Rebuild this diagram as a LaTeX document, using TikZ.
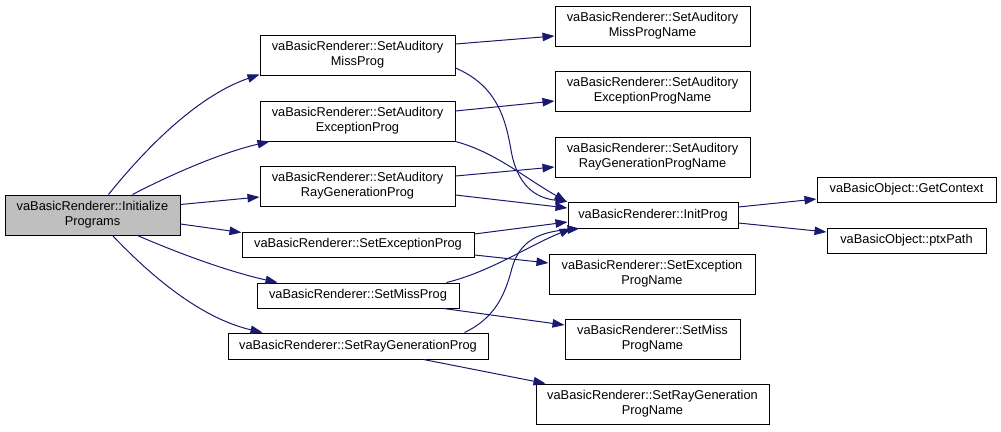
\documentclass[tikz,border=0pt]{standalone}
\usepackage{fontspec}
\setmainfont{Liberation Sans}
\usetikzlibrary{arrows.meta}
\definecolor{edgeblue}{HTML}{191970}
\definecolor{rootfill}{HTML}{BFBFBF}
\begin{document}
\begin{tikzpicture}[x=1pt,y=-1pt,
  box/.style={draw=black,line width=1pt,fill=white,inner sep=0pt,align=center,
    font=\fontsize{12.8pt}{15pt}\selectfont},
  call/.style={draw=edgeblue,line width=1pt,-{Triangle[length=12pt,width=8.5pt]}}]
\useasboundingbox (0,0) rectangle (1001,431);
% left column
\node[box,fill=rootfill,minimum width=175pt,minimum height=40pt] (main) at (92.5,215) {vaBasicRenderer::Initialize\\Programs};
\node[box,minimum width=195pt,minimum height=40pt] (samiss) at (357.5,55) {vaBasicRenderer::SetAuditory\\MissProg};
\node[box,minimum width=195pt,minimum height=40pt] (saexc) at (357.5,121) {vaBasicRenderer::SetAuditory\\ExceptionProg};
\node[box,minimum width=195pt,minimum height=40pt] (saray) at (357.5,186) {vaBasicRenderer::SetAuditory\\RayGenerationProg};
\node[box,minimum width=232pt,minimum height=25pt] (setexc) at (358,244.5) {vaBasicRenderer::SetExceptionProg};
\node[box,minimum width=202pt,minimum height=25pt] (setmiss) at (358,295.5) {vaBasicRenderer::SetMissProg};
\node[box,minimum width=260pt,minimum height=26pt] (setray) at (358,346) {vaBasicRenderer::SetRayGenerationProg};
% right column
\node[box,minimum width=195pt,minimum height=40pt] (samissn) at (652.5,26) {vaBasicRenderer::SetAuditory\\MissProgName};
\node[box,minimum width=195pt,minimum height=40pt] (saexcn) at (652.5,91) {vaBasicRenderer::SetAuditory\\ExceptionProgName};
\node[box,minimum width=195pt,minimum height=40pt] (sarayn) at (652.5,157) {vaBasicRenderer::SetAuditory\\RayGenerationProgName};
\node[box,minimum width=170pt,minimum height=26pt] (init) at (653,215) {vaBasicRenderer::InitProg};
\node[box,minimum width=206pt,minimum height=40pt] (setexcn) at (652,274) {vaBasicRenderer::SetException\\ProgName};
\node[box,minimum width=175pt,minimum height=40pt] (setmissn) at (652.5,339) {vaBasicRenderer::SetMiss\\ProgName};
\node[box,minimum width=233pt,minimum height=40pt] (setrayn) at (652.5,404) {vaBasicRenderer::SetRayGeneration\\ProgName};
\node[box,minimum width=179pt,minimum height=25pt] (getctx) at (906.5,189.5) {vaBasicObject::GetContext};
\node[box,minimum width=159pt,minimum height=25pt] (ptx) at (906.5,240.5) {vaBasicObject::ptxPath};
% edges from root
\draw[call] ([xshift=104pt]main.north west) .. controls (150,143) and (200,95) .. ([yshift=1pt]samiss.south west);
\draw[call] ([xshift=128pt]main.north west) .. controls (170,175) and (220,153) .. ([xshift=10pt]saexc.south west);
\draw[call] ([yshift=-10pt]main.north east) -- ([yshift=-11pt]saray.west);
\draw[call] ([yshift=-9pt]main.east) -- ([yshift=-1pt]setexc.north west);
\draw[call] ([xshift=133pt]main.south west) .. controls (180,254) and (230,272) .. ([xshift=21pt]setmiss.north west);
\draw[call] ([xshift=108pt]main.south west) .. controls (150,275) and (200,318) .. ([xshift=35pt]setray.north west);
% second level
\draw[call] ([yshift=11pt]samiss.east) -- ([yshift=-10pt]samissn.west);
\draw[call] ([yshift=-13pt]samiss.east) .. controls (495,85) and (505,115) .. (511,150) .. controls (517,185) and (535,198) .. (init.north west);
\draw[call] ([yshift=10pt]saexc.east) -- ([yshift=-10pt]saexcn.west);
\draw[call] (saexc.south east) .. controls (495,152) and (525,178) .. ([xshift=-1pt]init.north west);
\draw[call] ([yshift=10pt]saray.east) -- ([yshift=-10pt]sarayn.west);
\draw[call] ([yshift=-9pt]saray.east) -- ([yshift=7pt]init.west);
\draw[call] ([yshift=10.5pt]setexc.east) -- ([yshift=-7pt]init.west);
\draw[call] ([yshift=-10.5pt]setexc.east) -- ([yshift=11pt]setexcn.west);
\draw[call] ([xshift=-13pt]setmiss.north east) .. controls (490,272) and (530,245) .. ([xshift=4pt]init.south west);
\draw[call] ([xshift=-16pt]setmiss.south east) -- ([yshift=14pt]setmissn.west);
\draw[call] ([xshift=-24pt]setray.north east) .. controls (495,318) and (505,295) .. (512,268) .. controls (520,240) and (540,232) .. ([xshift=12pt]init.south west);
\draw[call] ([xshift=-65pt]setray.south east) -- ([xshift=10pt]setrayn.north west);
% third level
\draw[call] ([yshift=8pt]init.east) -- ([yshift=-9.5pt]getctx.west);
\draw[call] ([yshift=-8pt]init.east) -- ([yshift=8.5pt]ptx.west);
\end{tikzpicture}
\end{document}
